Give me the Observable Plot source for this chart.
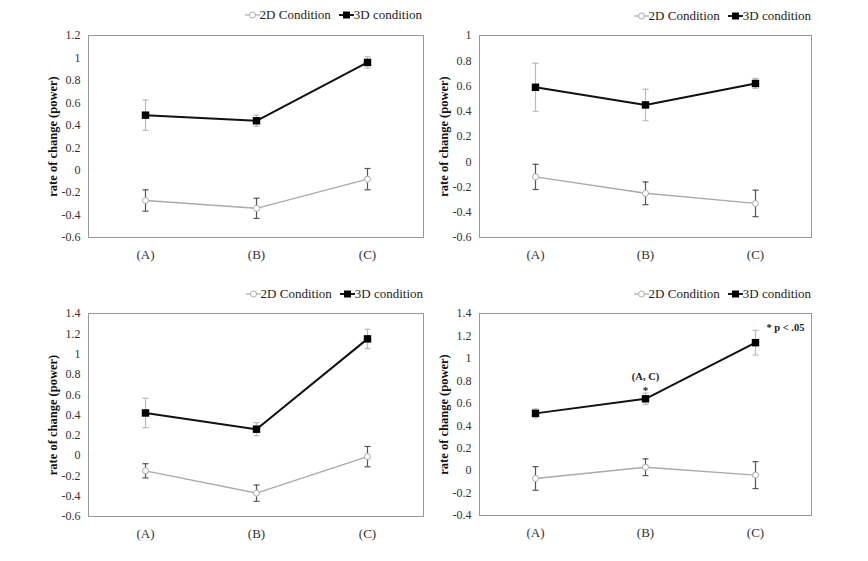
<!DOCTYPE html>
<html>
<head>
<meta charset="utf-8">
<script src="https://cdn.jsdelivr.net/npm/d3@7"></script>
<script src="https://cdn.jsdelivr.net/npm/@observablehq/plot@0.6"></script>
<style>
  html, body { margin: 0; padding: 0; background: #fff; }
  #root { position: relative; width: 868px; height: 561px; background: #fff; font-family: "Liberation Serif", "Times New Roman", "DejaVu Serif", serif; }
  .panel { position: absolute; }
  .panel svg { position: absolute; left: 0; top: 0; }
  .panel svg text { font-family: "Liberation Serif", "Times New Roman", "DejaVu Serif", serif; }
  .legend { position: absolute; display: flex; align-items: center; font-size: 13px; color: #222; white-space: nowrap; line-height: 14px; }
  .legend .item { display: flex; align-items: center; margin-left: 8px; }
  .legend svg { position: static; }
</style>
</head>
<body>
<div id="root"></div>
<script>
// ---- data ----
const categories = ["(A)", "(B)", "(C)"];
const seriesNames = ["2D Condition", "3D condition"];
const yLabel = "rate of change (power)";

// panel 1 (top-left)
const p1_2d = [-0.27, -0.34, -0.08];
const p1_2d_err = [0.095, 0.09, 0.095];
const p1_3d = [0.49, 0.44, 0.96];
const p1_3d_err = [0.135, 0.05, 0.05];
const p1_yDomain = [-0.6, 1.2];

// panel 2 (top-right)
const p2_2d = [-0.12, -0.25, -0.33];
const p2_2d_err = [0.10, 0.09, 0.105];
const p2_3d = [0.59, 0.45, 0.62];
const p2_3d_err = [0.19, 0.125, 0.04];
const p2_yDomain = [-0.6, 1.0];

// panel 3 (bottom-left)
const p3_2d = [-0.15, -0.37, -0.01];
const p3_2d_err = [0.07, 0.08, 0.10];
const p3_3d = [0.42, 0.26, 1.15];
const p3_3d_err = [0.145, 0.065, 0.095];
const p3_yDomain = [-0.6, 1.4];

// panel 4 (bottom-right)
const p4_2d = [-0.07, 0.03, -0.04];
const p4_2d_err = [0.105, 0.075, 0.12];
const p4_3d = [0.51, 0.64, 1.14];
const p4_3d_err = [0.04, 0.05, 0.11];
const p4_yDomain = [-0.4, 1.4];
const p4_sigCategory = "(B)";
const p4_sigLabel = "(A, C)";
const p4_sigMark = "*";
const p4_note = "* p < .05";

// ---- layout ----
const panels = [
  {left: 0,   top: 0,   w: 434, h: 280, mL: 88, mR: 11, mT: 35, mB: 43, legTop: 8,  legRight: 12, v2: p1_2d, e2: p1_2d_err, v3: p1_3d, e3: p1_3d_err, dom: p1_yDomain},
  {left: 434, top: 0,   w: 434, h: 280, mL: 45, mR: 57, mT: 35, mB: 43, legTop: 9,  legRight: 57, v2: p2_2d, e2: p2_2d_err, v3: p2_3d, e3: p2_3d_err, dom: p2_yDomain},
  {left: 0,   top: 280, w: 434, h: 281, mL: 88, mR: 11, mT: 33, mB: 45, legTop: 7,  legRight: 11, v2: p3_2d, e2: p3_2d_err, v3: p3_3d, e3: p3_3d_err, dom: p3_yDomain},
  {left: 434, top: 280, w: 434, h: 281, mL: 45, mR: 57, mT: 33, mB: 46, legTop: 7,  legRight: 57, v2: p4_2d, e2: p4_2d_err, v3: p4_3d, e3: p4_3d_err, dom: p4_yDomain, annotate: true}
];

const capSymbol = { draw(ctx, size) { ctx.moveTo(-3, 0); ctx.lineTo(3, 0); } };
const fmt = d => { const v = Math.round(d * 10) / 10; return (v === 0 ? 0 : v).toString(); };
const FONT = "'Liberation Serif', 'Times New Roman', 'DejaVu Serif', serif";

function swatch(kind) {
  const ns = "http://www.w3.org/2000/svg";
  const s = document.createElementNS(ns, "svg");
  s.setAttribute("width", 15); s.setAttribute("height", 10);
  if (kind === 0) {
    s.innerHTML = '<line x1="0" y1="5" x2="15" y2="5" stroke="#aaa" stroke-width="1.2"/><circle cx="7.5" cy="5" r="3" fill="#fff" stroke="#aaa" stroke-width="1"/>';
  } else {
    s.innerHTML = '<line x1="0" y1="5" x2="15" y2="5" stroke="#000" stroke-width="1.8"/><rect x="4" y="1.5" width="7" height="7" fill="#000"/>';
  }
  return s;
}

const root = document.getElementById("root");

panels.forEach(p => {
  const d2 = categories.map((c, i) => ({cat: c, v: p.v2[i], lo: p.v2[i] - p.e2[i], hi: p.v2[i] + p.e2[i]}));
  const d3d = categories.map((c, i) => ({cat: c, v: p.v3[i], lo: p.v3[i] - p.e3[i], hi: p.v3[i] + p.e3[i]}));
  const ticks = d3.range(Math.round(p.dom[0] * 10), Math.round(p.dom[1] * 10) + 1, 2).map(t => t / 10);

  const marks = [
    Plot.frame({stroke: "#999", strokeWidth: 1}),
    Plot.axisY({ticks, tickFormat: fmt, tickSize: 0, tickPadding: 8, label: null, fontSize: 12, fill: "#333"}),
    Plot.axisX({tickSize: 0, tickPadding: 12, label: null, fontSize: 13, fill: "#333"}),
    Plot.text([yLabel], {frameAnchor: "left", textAnchor: "middle", dx: -36, rotate: -90, fontWeight: "bold", fontSize: 12.5, fill: "#111"}),
    // 3D error bars (light)
    Plot.ruleX(d3d, {x: "cat", y1: "lo", y2: "hi", stroke: "#bbb", strokeWidth: 1.2}),
    Plot.dot(d3d, {x: "cat", y: "lo", symbol: capSymbol, stroke: "#bbb", strokeWidth: 1.2}),
    Plot.dot(d3d, {x: "cat", y: "hi", symbol: capSymbol, stroke: "#bbb", strokeWidth: 1.2}),
    // 2D error bars (dark)
    Plot.ruleX(d2, {x: "cat", y1: "lo", y2: "hi", stroke: "#555", strokeWidth: 1.2}),
    Plot.dot(d2, {x: "cat", y: "lo", symbol: capSymbol, stroke: "#555", strokeWidth: 1.2}),
    Plot.dot(d2, {x: "cat", y: "hi", symbol: capSymbol, stroke: "#555", strokeWidth: 1.2}),
    // lines
    Plot.line(d2, {x: "cat", y: "v", stroke: "#aaa", strokeWidth: 1.4}),
    Plot.line(d3d, {x: "cat", y: "v", stroke: "#111", strokeWidth: 2}),
    // markers
    Plot.dot(d2, {x: "cat", y: "v", r: 3, fill: "#fff", stroke: "#aaa", strokeWidth: 1}),
    Plot.dot(d3d, {x: "cat", y: "v", symbol: "square", r: 4.2, fill: "#000", stroke: "none"})
  ];

  if (p.annotate) {
    const sig = d3d.filter(d => d.cat === p4_sigCategory);
    marks.push(Plot.text(sig, {x: "cat", y: "hi", text: () => p4_sigLabel, dy: -17, fontWeight: "bold", fontSize: 10.5, fill: "#222"}));
    marks.push(Plot.text(sig, {x: "cat", y: "hi", text: () => p4_sigMark, dy: -3, fontWeight: "bold", fontSize: 11, fill: "#222"}));
    marks.push(Plot.text([p4_note], {frameAnchor: "top-right", dx: -7, dy: 10, fontWeight: "bold", fontSize: 10.5, fill: "#222"}));
  }

  const chart = Plot.plot({
    width: p.w, height: p.h,
    marginLeft: p.mL, marginRight: p.mR, marginTop: p.mT, marginBottom: p.mB,
    style: {fontFamily: FONT, background: "#fff", color: "#333"},
    x: {type: "point", domain: categories, padding: 0.5},
    y: {domain: p.dom},
    marks
  });

  const div = document.createElement("div");
  div.className = "panel";
  div.style.left = p.left + "px"; div.style.top = p.top + "px";
  div.style.width = p.w + "px"; div.style.height = p.h + "px";
  div.appendChild(chart);

  const leg = document.createElement("div");
  leg.className = "legend";
  leg.style.top = p.legTop + "px"; leg.style.right = p.legRight + "px";
  seriesNames.forEach((name, k) => {
    const it = document.createElement("span");
    it.className = "item";
    it.appendChild(swatch(k));
    const t = document.createElement("span");
    t.textContent = name;
    it.appendChild(t);
    leg.appendChild(it);
  });
  div.appendChild(leg);
  root.appendChild(div);
});
</script>
</body>
</html>
